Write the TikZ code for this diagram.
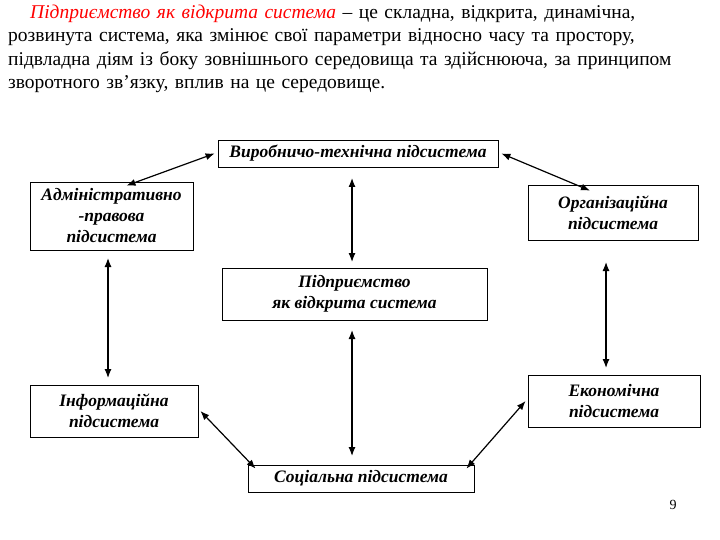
\documentclass[tikz,border=0pt]{standalone}
\usepackage{fontspec}
\setmainfont{Liberation Serif}
\usetikzlibrary{arrows.meta}
\begin{document}
\begin{tikzpicture}[x=1pt,y=-1pt,
  bx/.style={draw,line width=0.8pt,align=center,inner sep=0pt,font=\fontsize{17.5}{21}\selectfont\bfseries\itshape},
  ar/.style={{Latex[length=9pt,width=7pt]}-{Latex[length=9pt,width=7pt]},line width=1.2pt}]
\useasboundingbox (0,0) rectangle (720,540);
\node[anchor=north west,inner sep=0pt,text width=700pt,font=\fontsize{19.5}{23.2}\selectfont] (txt) at (8,5) {\parindent=22pt\indent\textcolor{red}{\itshape Підприємство як відкрита система} – це складна, відкрита, динамічна,\linebreak розвинута система, яка змінює свої параметри відносно часу та простору,\linebreak підвладна діям із боку зовнішнього середовища та здійснююча, за принципом\linebreak зворотного зв’язку, вплив на це середовище.\par};
\node[bx,minimum width=280pt,minimum height=27pt] (top) at (358,153.5) {Виробничо-технічна підсистема};
\node[bx,minimum width=163pt,minimum height=68pt] (adm) at (111.5,216) {Адміністративно\\-правова\\підсистема};
\node[bx,minimum width=170pt,minimum height=55pt] (org) at (613,212.5) {Організаційна\\підсистема};
\node[bx,minimum width=265pt,minimum height=52pt] (cen) at (354.5,294) {Підприємство\\як відкрита система};
\node[bx,minimum width=168pt,minimum height=52pt] (inf) at (114,411) {Інформаційна\\підсистема};
\node[bx,minimum width=172pt,minimum height=52pt] (eco) at (614,401) {Економічна\\підсистема};
\node[bx,minimum width=226pt,minimum height=27pt] (soc) at (361,478.5) {Соціальна підсистема};
\node[font=\fontsize{14}{16}\selectfont] (pg) at (673,505) {9};
\draw[ar] ([xshift=-3pt]top.west) -- ([xshift=15pt,yshift=-4pt]adm.north);
\draw[ar] ([xshift=3pt]top.east) -- ([xshift=-23pt,yshift=-6pt]org.north);
\draw[ar] (352,178) -- (352,262);
\draw[ar] (352,330) -- (352,456);
\draw[ar] (108,258) -- (108,378);
\draw[ar] (606,262) -- (606,368);
\draw[ar] ([xshift=2pt]inf.east) -- ([xshift=8pt,yshift=-4pt]soc.north west);
\draw[ar] ([xshift=-2pt]eco.west) -- ([xshift=-8pt,yshift=-4pt]soc.north east);
\end{tikzpicture}
\end{document}
